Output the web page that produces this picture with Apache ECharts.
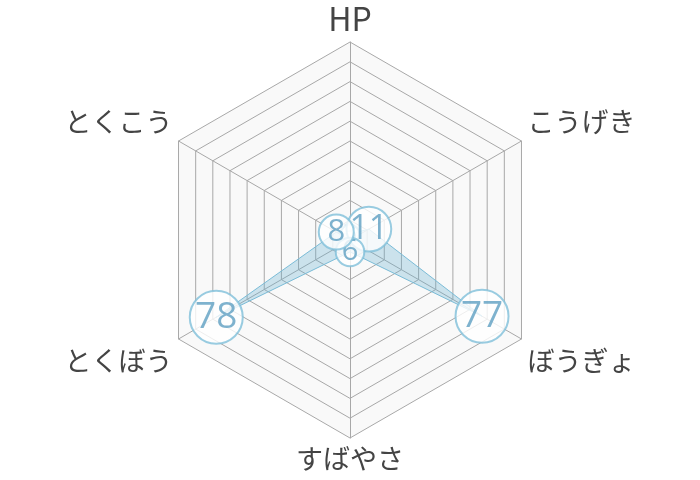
<!DOCTYPE html>
<html>
<head>
<meta charset="utf-8">
<script src="https://cdn.jsdelivr.net/npm/echarts@6/dist/echarts.min.js"></script>
<style>
  html, body { margin: 0; padding: 0; background: #fff; }
  #chart { width: 700px; height: 480px; }
</style>
</head>
<body>
<div id="chart"></div>
<script>
// stats, listed clockwise from the top
const statNames = ['HP', 'こうげき', 'ぼうぎょ', 'すばやさ', 'とくぼう', 'とくこう']
const statValues = [3, 11, 77, 6, 78, 8]
const statMax = 100
// order the markers are stacked in (bottom first)
const drawOrder = [0, 1, 3, 2, 4, 5]

const font = '"Noto Sans CJK JP", "Noto Sans", sans-serif'
const blue = '#80bfd9'

// radar lays indicators out counter-clockwise, so flip the rest
const ccw = [0, 5, 4, 3, 2, 1]

function markerSize(v) {
  return Math.min(53, 9 + 3.25 * v)
}

// side labels sit above / below their corner instead of centred on it
function nameStyle(name) {
  const i = statNames.indexOf(name)
  if (i === 0) return 'top'
  if (i === 1 || i === 5) return 'up'
  if (i === 2 || i === 4) return 'down'
  return 'plain'
}

const nameText = { color: '#444', fontFamily: font, fontSize: 27 }

const chart = echarts.init(document.getElementById('chart'))

const markerSeries = drawOrder.map((i, k) => {
  const size = markerSize(statValues[i])
  return {
    type: 'scatter',
    coordinateSystem: 'polar',
    z: 3 + k,
    symbol: 'circle',
    symbolSize: size,
    itemStyle: { color: '#fff', borderColor: blue, borderWidth: 2 },
    label: {
      show: true,
      position: 'inside',
      color: '#5e9fc2',
      fontFamily: '"Open Sans", "Noto Sans", sans-serif',
      fontSize: Math.round(20 + size * 0.32),
      formatter: (p) => p.value[0]
    },
    silent: true,
    data: [[statValues[i], statNames[i]]]
  }
})

chart.setOption({
  animation: false,
  radar: {
    center: ['50%', '50%'],
    radius: 198,
    startAngle: 90,
    splitNumber: 10,
    shape: 'polygon',
    nameGap: 7,
    indicator: ccw.map((i) => ({ name: statNames[i], max: statMax })),
    axisName: {
      ...nameText,
      formatter: (name) => '{' + nameStyle(name) + '|' + name + '}',
      rich: {
        top: { ...nameText, fontSize: 32 },
        up: { ...nameText, padding: [0, 0, 32, 0] },
        down: { ...nameText, padding: [36, 0, 0, 0] },
        plain: { ...nameText }
      }
    },
    axisLine: { lineStyle: { color: '#a8a8a8', width: 1 } },
    splitLine: { lineStyle: { color: '#a8a8a8', width: 1 } },
    splitArea: { show: true, areaStyle: { color: ['#f9f9f9'] } }
  },
  polar: {
    center: ['50%', '50%'],
    radius: 198
  },
  angleAxis: {
    type: 'category',
    data: statNames,
    startAngle: 90,
    clockwise: true,
    boundaryGap: false,
    show: false
  },
  radiusAxis: {
    min: 0,
    max: statMax,
    show: false
  },
  series: [
    {
      type: 'radar',
      z: 2,
      symbol: 'none',
      silent: true,
      lineStyle: { color: blue, width: 1 },
      areaStyle: { color: 'rgba(105, 175, 208, 0.45)' },
      data: [{ value: ccw.map((i) => statValues[i]) }]
    },
    ...markerSeries
  ]
})
</script>
</body>
</html>
